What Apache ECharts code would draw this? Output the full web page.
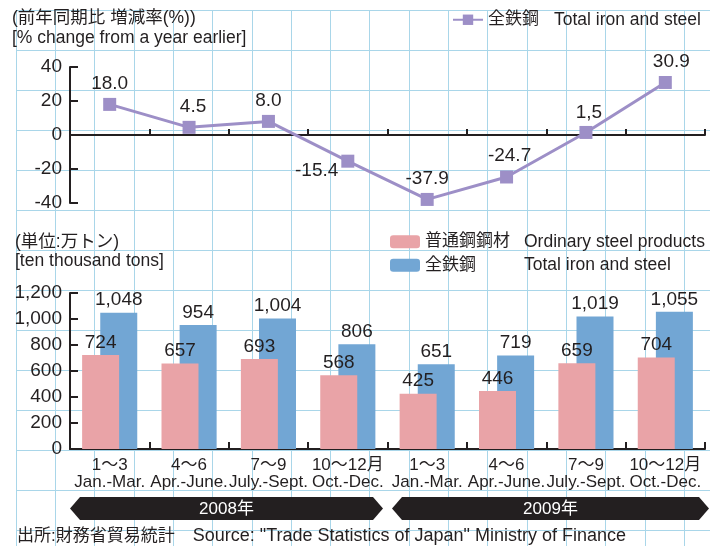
<!DOCTYPE html>
<html><head><meta charset="utf-8">
<script src="https://cdn.jsdelivr.net/npm/echarts@6/dist/echarts.min.js"></script>
<style>html,body{margin:0;padding:0;background:#fff}#c{width:710px;height:546px}</style>
</head><body><div id="c"></div>
<script>
// ---- data ----
const quarterJa = ['1～3','4～6','7～9','10～12月','1～3','4～6','7～9','10～12月'];
const quarterEn = ['Jan.-Mar.','Apr.-June.','July.-Sept.','Oct.-Dec.','Jan.-Mar.','Apr.-June.','July.-Sept.','Oct.-Dec.'];
const years = ['2008年','2009年'];
const totalChangePct = [18.0, 4.5, 8.0, -15.4, -37.9, -24.7, 1.5, 30.9];
const totalChangeLabels = ['18.0','4.5','8.0','-15.4','-37.9','-24.7','1,5','30.9'];
const ordinarySteel = [724, 657, 693, 568, 425, 446, 659, 704];
const totalSteel = [1048, 954, 1004, 806, 651, 719, 1019, 1055];
const pctAxis = {min: -40, max: 40, interval: 20};
const tonAxis = {min: 0, max: 1200, interval: 200};

// ---- styling ----
const FONT = '"Liberation Sans", Arial, "Noto Sans CJK JP", sans-serif';
const INK = '#231f20';
const PURPLE = '#9d8fc7';
const PINK = '#e9a3a7';
const BLUE = '#72a6d4';
const GRIDLINE = '#a9d6e9';
const names = {rate: '全鉄鋼(増減率)', ord: '普通鋼鋼材', tot: '全鉄鋼'};
const legendText = {
  [names.rate]: ['全鉄鋼', 'Total iron and steel'],
  [names.ord]: ['普通鋼鋼材', 'Ordinary steel products'],
  [names.tot]: ['全鉄鋼', 'Total iron and steel']
};
const labelTweak = {
  1: {offset: [4, 0]},
  3: {position: 'left', distance: 3, offset: [0, 10]},
  5: {offset: [3, 0]},
  6: {offset: [3, 1]},
  7: {offset: [6, 0]}
};
const ink = () => ({color: INK, width: 2});

const chart = echarts.init(document.getElementById('c'), null, {renderer: 'canvas'});

const option = {
  backgroundColor: '#fff',
  animation: false,
  textStyle: {fontFamily: FONT, color: INK},
  title: [
    {text: '(前年同期比 増減率(%))\n[% change from a year earlier]', left: 12, top: 8, padding: 0,
     textStyle: {fontFamily: FONT, fontSize: 17.5, fontWeight: 'normal', color: INK, lineHeight: 20}},
    {text: '(単位:万トン)\n[ten thousand tons]', left: 15, top: 233, padding: 0,
     textStyle: {fontFamily: FONT, fontSize: 17.5, fontWeight: 'normal', color: INK, lineHeight: 19}},
    {text: '{a|出所:財務省貿易統計}　{b|Source: "Trade Statistics of Japan" Ministry of Finance}', left: 17, top: 527, padding: 0,
     textStyle: {fontWeight: 'normal', color: INK,
       rich: {a: {fontFamily: FONT, fontSize: 17, color: INK, lineHeight: 19},
              b: {fontFamily: FONT, fontSize: 18, color: INK, lineHeight: 19}}}}
  ],
  legend: [
    {data: [names.rate], left: 452, top: 11, itemWidth: 30, itemHeight: 13, itemGap: 5, padding: 0,
     formatter: n => '{a|' + legendText[n][0] + '}{b|' + legendText[n][1] + '}',
     textStyle: {rich: {a: {fontFamily: FONT, fontSize: 17, width: 66, color: INK}, b: {fontFamily: FONT, fontSize: 17.5, color: INK}}}},
    {data: [names.ord, names.tot], orient: 'vertical', left: 390, top: 233, itemWidth: 30, itemHeight: 13, itemGap: 6, padding: 0,
     formatter: n => '{a|' + legendText[n][0] + '}{b|' + legendText[n][1] + '}',
     textStyle: {rich: {a: {fontFamily: FONT, fontSize: 17, width: 99, lineHeight: 19, color: INK}, b: {fontFamily: FONT, fontSize: 17.5, lineHeight: 19, color: INK}}}}
  ],
  grid: [
    {left: 16, top: 10, right: 0, bottom: 0},
    {left: 70, right: 5, top: 67, bottom: 546 - 203},
    {left: 70, right: 5, top: 293, bottom: 546 - 449}
  ],
  xAxis: [
    {gridIndex: 0, type: 'value', min: 0, max: 694, interval: 39.3, silent: true,
     axisLine: {show: false}, axisTick: {show: false}, axisLabel: {show: false},
     splitLine: {show: true, lineStyle: {color: GRIDLINE, width: 1}}},
    {gridIndex: 1, type: 'category', data: quarterJa, position: 'bottom', boundaryGap: true,
     axisLine: {show: true, onZero: true, lineStyle: ink()},
     axisTick: {show: true, inside: true, length: 6, lineStyle: ink(), interval: 0},
     axisLabel: {show: false}, splitLine: {show: false}},
    {gridIndex: 2, type: 'category', data: quarterJa, position: 'bottom', boundaryGap: true,
     axisLine: {show: true, lineStyle: ink()},
     axisTick: {show: true, inside: true, length: 7, lineStyle: ink(), interval: 0},
     axisLabel: {interval: 0, margin: 8,
       formatter: (v, i) => '{a|' + quarterJa[i] + '}\n{b|' + quarterEn[i] + '}',
       rich: {a: {fontFamily: FONT, fontSize: 17, lineHeight: 17, color: INK, align: 'center'},
              b: {fontFamily: FONT, fontSize: 17, lineHeight: 17, color: INK, align: 'center'}}},
     splitLine: {show: false}}
  ],
  yAxis: [
    {gridIndex: 0, type: 'value', inverse: true, min: 0, max: 536, interval: 40, silent: true,
     axisLine: {show: false}, axisTick: {show: false}, axisLabel: {show: false},
     splitLine: {show: true, lineStyle: {color: GRIDLINE, width: 1}}},
    {gridIndex: 1, type: 'value', position: 'left', min: pctAxis.min, max: pctAxis.max, interval: pctAxis.interval,
     axisLine: {show: true, onZero: false, lineStyle: ink()},
     axisTick: {show: true, inside: true, length: 8, lineStyle: ink()},
     axisLabel: {fontFamily: FONT, fontSize: 19, color: INK, margin: 8},
     splitLine: {show: false}},
    {gridIndex: 2, type: 'value', position: 'left', min: tonAxis.min, max: tonAxis.max, interval: tonAxis.interval,
     axisLine: {show: true, onZero: false, lineStyle: ink()},
     axisTick: {show: true, inside: true, length: 8, lineStyle: ink()},
     axisLabel: {fontFamily: FONT, fontSize: 19, color: INK, margin: 8},
     splitLine: {show: false}}
  ],
  series: [
    {name: names.rate, type: 'line', xAxisIndex: 1, yAxisIndex: 1, z: 5,
     symbol: 'rect', symbolSize: 13,
     lineStyle: {color: PURPLE, width: 3}, itemStyle: {color: PURPLE},
     label: {show: true, position: 'top', distance: 5, fontFamily: FONT, fontSize: 19, color: INK},
     data: totalChangePct.map((v, i) => ({
       value: v,
       label: Object.assign({formatter: totalChangeLabels[i]}, labelTweak[i] || {})
     }))},
    {name: names.ord, type: 'bar', xAxisIndex: 2, yAxisIndex: 2, z: 4,
     barWidth: 37, barGap: '-51%', itemStyle: {color: PINK},
     label: {show: true, position: 'top', distance: 3, fontFamily: FONT, fontSize: 19, color: INK,
             formatter: p => p.value.toLocaleString('en-US')},
     data: ordinarySteel},
    {name: names.tot, type: 'bar', xAxisIndex: 2, yAxisIndex: 2, z: 3,
     barWidth: 37, barGap: '-51%', itemStyle: {color: BLUE},
     label: {show: true, position: 'top', distance: 3, fontFamily: FONT, fontSize: 19, color: INK,
             formatter: p => p.value.toLocaleString('en-US')},
     data: totalSteel}
  ]
};
chart.setOption(option);

// Year banners placed from the category axis
const c0 = chart.convertToPixel({xAxisIndex: 2}, 0);
const c1 = chart.convertToPixel({xAxisIndex: 2}, 1);
const band = c1 - c0;
const b0 = c0 - band / 2;
const bMid = b0 + 4 * band;
const bEnd = b0 + 8 * band;
const yTop = 497, yBot = 520, yMid = (yTop + yBot) / 2, tip = 10;
function banner(x0, x1, text) {
  return {
    type: 'group', z: 10,
    children: [
      {type: 'polygon', shape: {points: [[x0, yMid], [x0 + tip, yTop], [x1 - tip, yTop], [x1, yMid], [x1 - tip, yBot], [x0 + tip, yBot]]},
       style: {fill: INK}},
      {type: 'text', x: (x0 + x1) / 2, y: yMid + 1,
       style: {text: text, fill: '#fff', font: '17px ' + FONT, align: 'center', verticalAlign: 'middle'}}
    ]
  };
}
chart.setOption({graphic: [banner(b0, bMid - 4.5, years[0]), banner(bMid + 4.5, bEnd + 4, years[1])]});
</script></body></html>
